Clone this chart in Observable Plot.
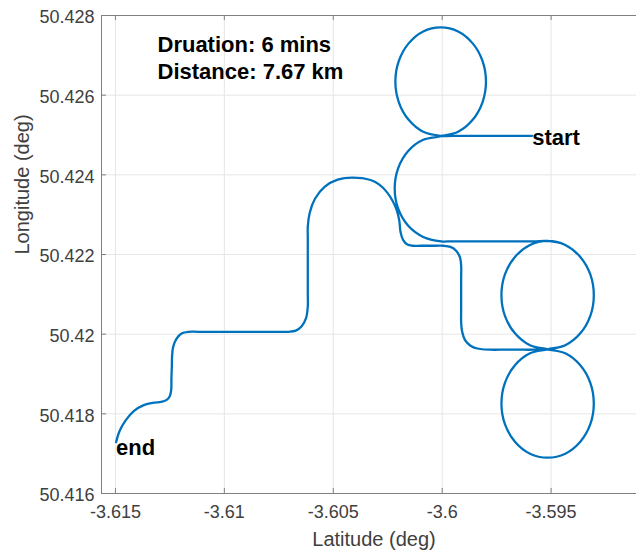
<!DOCTYPE html>
<html>
<head>
<meta charset="utf-8">
<script src="https://cdn.jsdelivr.net/npm/d3@7"></script>
<script src="https://cdn.jsdelivr.net/npm/@observablehq/plot@0.6"></script>
<style>
  html, body { margin: 0; padding: 0; background: #fff; }
  #chart { width: 636px; height: 550px; overflow: hidden; }
</style>
</head>
<body>
<div id="chart"></div>
<script>
// GPS track of the drive, in time order from "start" to "end"
const lon = [
  -3.59587, -3.5975, -3.5992, -3.60007,
  // first loop (north)
  -3.60087, -3.60154, -3.60199, -3.60215, -3.60199, -3.60154, -3.60087, -3.60007,
  -3.59927, -3.5986, -3.59815, -3.59799, -3.59815, -3.5986, -3.59927, -3.60005,
  // half turn to the south
  -3.60087, -3.60156, -3.60202, -3.60218, -3.60202, -3.60156, -3.60087, -3.60005,
  // east leg
  -3.5996, -3.5985, -3.5968, -3.5958, -3.59516,
  // east loop, right side
  -3.59435, -3.59366, -3.5932, -3.59304, -3.5932, -3.59366, -3.59435, -3.59516,
  // south loop
  -3.59597, -3.59666, -3.59712, -3.59728, -3.59712, -3.59666, -3.59597, -3.59516,
  -3.59435, -3.59366, -3.5932, -3.59304, -3.5932, -3.59366, -3.59435, -3.59516,
  // east loop, left side then right side again
  -3.59597, -3.59666, -3.59712, -3.59728, -3.59712, -3.59666, -3.59597, -3.59516,
  -3.59435, -3.59366, -3.5932, -3.59304, -3.5932, -3.59366, -3.59435, -3.59516,
  // back west and north
  -3.5958, -3.5965, -3.5974, -3.59778, -3.59839, -3.5987, -3.59895, -3.59909,
  -3.59913, -3.59913, -3.59913, -3.59913,
  -3.59918, -3.59935, -3.59962, -3.59994, -3.6003, -3.601, -3.60136, -3.6016,
  -3.60179, -3.60191,
  -3.60197, -3.60208, -3.60226, -3.60253, -3.6029, -3.60329, -3.60413, -3.6048,
  -3.6054, -3.60584, -3.60608, -3.60617, -3.60617, -3.60617, -3.60617,
  -3.60625, -3.60645, -3.60672,
  -3.60704, -3.6075, -3.6112, -3.61163, -3.61195, -3.6122, -3.61235, -3.6124,
  -3.61241, -3.61243, -3.61244, -3.6125,
  -3.61265, -3.6129, -3.61324, -3.6137, -3.61416, -3.61454, -3.61481, -3.61497
];
const lat = [
  50.42498, 50.42498, 50.42498, 50.42498,
  50.42508, 50.42538, 50.42582, 50.42634, 50.42686, 50.4273, 50.4276, 50.4277,
  50.4276, 50.4273, 50.42686, 50.42634, 50.42582, 50.42538, 50.42508, 50.42497,
  50.42488, 50.4246, 50.42417, 50.42366, 50.42315, 50.42272, 50.42244, 50.42233,
  50.42233, 50.42233, 50.42233, 50.42233, 50.42234,
  50.42224, 50.42194, 50.4215, 50.42098, 50.42046, 50.42002, 50.41972, 50.41962,
  50.41952, 50.41922, 50.41878, 50.41826, 50.41774, 50.4173, 50.417, 50.4169,
  50.417, 50.4173, 50.41774, 50.41826, 50.41878, 50.41922, 50.41952, 50.41962,
  50.41972, 50.42002, 50.42046, 50.42098, 50.4215, 50.42194, 50.42224, 50.42234,
  50.42224, 50.42194, 50.4215, 50.42098, 50.42046, 50.42002, 50.41972, 50.41962,
  50.41961, 50.41961, 50.41961, 50.41961, 50.41964, 50.41971, 50.41985, 50.42008,
  50.4203, 50.4206, 50.4214, 50.42172,
  50.42192, 50.42209, 50.42219, 50.42222, 50.42222, 50.42222, 50.42222, 50.42225,
  50.42236, 50.42256,
  50.42285, 50.4231, 50.42333, 50.42356, 50.42376, 50.42387, 50.42393, 50.42388,
  50.4237, 50.4234, 50.42305, 50.4227, 50.4224, 50.421, 50.4207,
  50.4204, 50.4202, 50.42009,
  50.42006, 50.42006, 50.42006, 50.42006, 50.42002, 50.41988, 50.41968, 50.41945,
  50.4192, 50.4189, 50.4186, 50.41845,
  50.41835, 50.4183, 50.41828, 50.41822, 50.41807, 50.41783, 50.41757, 50.41729
];

// axes
const xDomain = [-3.61564, -3.59108];
const yDomain = [50.416, 50.428];
const xTicks = [-3.615, -3.61, -3.605, -3.6, -3.595];
const xTickLabels = ["-3.615", "-3.61", "-3.605", "-3.6", "-3.595"];
const yTicks = [50.416, 50.418, 50.42, 50.422, 50.424, 50.426, 50.428];
const yTickLabels = ["50.416", "50.418", "50.42", "50.422", "50.424", "50.426", "50.428"];
const xLabel = "Latitude (deg)";
const yLabel = "Longitude (deg)";
const summary = ["Druation: 6 mins", "Distance: 7.67 km"];

const font = "'Liberation Sans', Arial, Helvetica, sans-serif";
const axisColor = "#808080";
const labelColor = "#404040";
const gridColor = "#e6e6e6";
const lineColor = "#0072bd";

const marginLeft = 101, marginRight = 0, marginTop = 15, marginBottom = 57;
const width = 636, height = 550;
const frameW = width - marginLeft - marginRight;
const frameH = height - marginTop - marginBottom;
const tickLen = 5;

const chart = Plot.plot({
  width, height, marginLeft, marginRight, marginTop, marginBottom,
  x: {domain: xDomain, axis: null},
  y: {domain: yDomain, axis: null},
  style: {fontFamily: font, background: "#fff", overflow: "hidden"},
  marks: [
    // grid
    Plot.ruleX(xTicks, {x: d => d, stroke: gridColor, strokeWidth: 1}),
    Plot.ruleY(yTicks, {y: d => d, stroke: gridColor, strokeWidth: 1}),
    // track
    Plot.line(lon, {x: lon, y: lat, curve: "catmull-rom", stroke: lineColor, strokeWidth: 2.3, strokeLinejoin: "round", strokeLinecap: "round"}),
    // box (top, bottom, left)
    Plot.ruleY([yDomain[0], yDomain[1]], {y: d => d, stroke: axisColor, strokeWidth: 1}),
    Plot.ruleX([xDomain[0]], {x: d => d, stroke: axisColor, strokeWidth: 1}),
    // inward tick marks
    Plot.tickX(xTicks, {x: d => d, insetTop: frameH - tickLen, stroke: axisColor}),
    Plot.tickX(xTicks, {x: d => d, insetBottom: frameH - tickLen, stroke: axisColor}),
    Plot.tickY(yTicks, {y: d => d, insetRight: frameW - tickLen, stroke: axisColor}),
    // tick labels
    Plot.text(xTicks, {x: d => d, text: (d, i) => xTickLabels[i], frameAnchor: "bottom", dy: 19, lineAnchor: "middle", fontSize: 18, fill: labelColor}),
    Plot.text(yTicks, {y: d => d, text: (d, i) => yTickLabels[i], frameAnchor: "left", dx: -7, dy: 2, textAnchor: "end", lineAnchor: "middle", fontSize: 18, fill: labelColor}),
    // axis titles
    Plot.text([xLabel], {frameAnchor: "bottom", dx: 5, dy: 46, lineAnchor: "middle", fontSize: 20, fill: labelColor}),
    Plot.text([yLabel], {frameAnchor: "left", dx: -79, rotate: -90, lineAnchor: "middle", fontSize: 20, fill: labelColor}),
    // trip summary
    Plot.text([summary.join("\n")], {frameAnchor: "top-left", dx: 56, dy: 41, textAnchor: "start", lineAnchor: "middle", lineHeight: 1.23, fontSize: 22, fontWeight: "bold", fill: "#000"}),
    // start / end markers
    Plot.text(["start"], {x: lon[0], y: lat[0], textAnchor: "start", lineAnchor: "middle", dy: 2, fontSize: 22, fontWeight: "bold", fill: "#000"}),
    Plot.text(["end"], {x: lon[lon.length - 1], y: lat[lat.length - 1], textAnchor: "start", lineAnchor: "middle", dy: 6, fontSize: 22, fontWeight: "bold", fill: "#000"})
  ]
});

document.getElementById("chart").appendChild(chart);
</script>
</body>
</html>
